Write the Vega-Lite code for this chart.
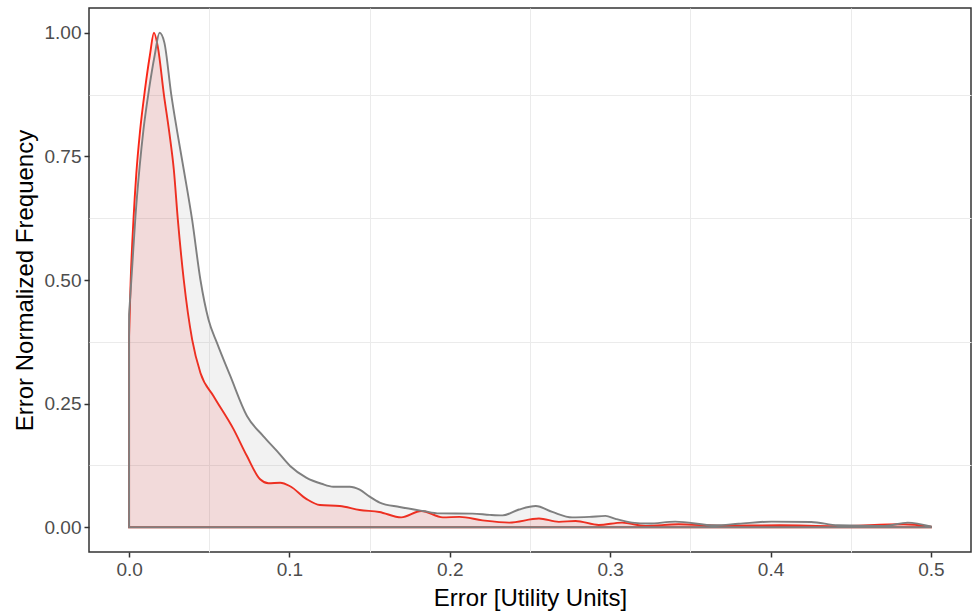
{
  "$schema": "https://vega.github.io/schema/vega-lite/v6.json",
  "width": 882,
  "height": 544,
  "autosize": {"type": "none"},
  "padding": {"left": 89, "top": 8, "right": 2, "bottom": 59},
  "background": "white",
  "config": {
    "font": "Liberation Sans",
    "view": {"stroke": "#333333", "strokeWidth": 1.5},
    "axis": {
      "domain": false,
      "grid": true,
      "gridColor": "#EBEBEB",
      "gridWidth": 2,
      "tickColor": "#333333",
      "tickWidth": 1.5,
      "tickSize": 5,
      "labelFont": "Liberation Sans",
      "labelFontSize": 19,
      "labelColor": "#4D4D4D",
      "labelPadding": 3,
      "titleFont": "Liberation Sans",
      "titleFontSize": 24,
      "titleFontWeight": "normal",
      "titleColor": "#000000",
      "titlePadding": 7
    }
  },
  "datasets": {
    "redSeries": [
      {"error": 0.000, "freq": 0.386},
      {"error": 0.001, "freq": 0.50},
      {"error": 0.0027, "freq": 0.62},
      {"error": 0.0045, "freq": 0.715},
      {"error": 0.0068, "freq": 0.80},
      {"error": 0.0099, "freq": 0.885},
      {"error": 0.013, "freq": 0.955},
      {"error": 0.0155, "freq": 1.0},
      {"error": 0.018, "freq": 0.97},
      {"error": 0.0217, "freq": 0.875},
      {"error": 0.025, "freq": 0.80},
      {"error": 0.0279, "freq": 0.723},
      {"error": 0.0304, "freq": 0.622},
      {"error": 0.0341, "freq": 0.50},
      {"error": 0.0393, "freq": 0.38},
      {"error": 0.0445, "freq": 0.312},
      {"error": 0.0527, "freq": 0.265},
      {"error": 0.0652, "freq": 0.198},
      {"error": 0.0735, "freq": 0.144},
      {"error": 0.0817, "freq": 0.097},
      {"error": 0.0869, "freq": 0.089},
      {"error": 0.0942, "freq": 0.090},
      {"error": 0.1004, "freq": 0.083},
      {"error": 0.1107, "freq": 0.057},
      {"error": 0.119, "freq": 0.045},
      {"error": 0.1314, "freq": 0.043},
      {"error": 0.1438, "freq": 0.035},
      {"error": 0.156, "freq": 0.031},
      {"error": 0.1697, "freq": 0.020},
      {"error": 0.1822, "freq": 0.033},
      {"error": 0.1956, "freq": 0.020},
      {"error": 0.206, "freq": 0.021},
      {"error": 0.2204, "freq": 0.014},
      {"error": 0.237, "freq": 0.0095},
      {"error": 0.2556, "freq": 0.0176},
      {"error": 0.268, "freq": 0.011},
      {"error": 0.2784, "freq": 0.0128},
      {"error": 0.2929, "freq": 0.0047},
      {"error": 0.3074, "freq": 0.0095},
      {"error": 0.322, "freq": 0.0027},
      {"error": 0.3426, "freq": 0.006},
      {"error": 0.369, "freq": 0.003},
      {"error": 0.406, "freq": 0.004},
      {"error": 0.44, "freq": 0.002},
      {"error": 0.483, "freq": 0.006},
      {"error": 0.5, "freq": 0.001}
    ],
    "graySeries": [
      {"error": 0.000, "freq": 0.43},
      {"error": 0.002, "freq": 0.53},
      {"error": 0.004, "freq": 0.63},
      {"error": 0.0066, "freq": 0.73},
      {"error": 0.009, "freq": 0.805},
      {"error": 0.0124, "freq": 0.885},
      {"error": 0.016, "freq": 0.955},
      {"error": 0.019, "freq": 1.0},
      {"error": 0.022, "freq": 0.98},
      {"error": 0.0263, "freq": 0.875},
      {"error": 0.030, "freq": 0.80},
      {"error": 0.0341, "freq": 0.723},
      {"error": 0.0393, "freq": 0.622},
      {"error": 0.0445, "freq": 0.50},
      {"error": 0.0495, "freq": 0.42},
      {"error": 0.0548, "freq": 0.373},
      {"error": 0.0631, "freq": 0.306},
      {"error": 0.0735, "freq": 0.225},
      {"error": 0.0838, "freq": 0.184},
      {"error": 0.092, "freq": 0.155},
      {"error": 0.1004, "freq": 0.124},
      {"error": 0.1107, "freq": 0.100},
      {"error": 0.12, "freq": 0.088},
      {"error": 0.1273, "freq": 0.082},
      {"error": 0.1376, "freq": 0.082},
      {"error": 0.1438, "freq": 0.076},
      {"error": 0.15, "freq": 0.062},
      {"error": 0.1563, "freq": 0.050},
      {"error": 0.1687, "freq": 0.041},
      {"error": 0.1832, "freq": 0.033},
      {"error": 0.1935, "freq": 0.028},
      {"error": 0.2142, "freq": 0.0276},
      {"error": 0.225, "freq": 0.025},
      {"error": 0.2329, "freq": 0.024},
      {"error": 0.2432, "freq": 0.036},
      {"error": 0.2536, "freq": 0.043},
      {"error": 0.2639, "freq": 0.031},
      {"error": 0.2763, "freq": 0.020},
      {"error": 0.287, "freq": 0.021},
      {"error": 0.2971, "freq": 0.023},
      {"error": 0.3033, "freq": 0.017},
      {"error": 0.3136, "freq": 0.0095},
      {"error": 0.324, "freq": 0.0075},
      {"error": 0.3405, "freq": 0.0115},
      {"error": 0.3654, "freq": 0.004},
      {"error": 0.38, "freq": 0.007},
      {"error": 0.4006, "freq": 0.0115},
      {"error": 0.4254, "freq": 0.0107},
      {"error": 0.442, "freq": 0.004},
      {"error": 0.471, "freq": 0.0027},
      {"error": 0.4855, "freq": 0.0095},
      {"error": 0.5, "freq": 0.0015}
    ]
  },
  "layer": [
    {
      "data": {"name": "redSeries"},
      "mark": {"type": "area", "interpolate": "monotone", "fill": "#FF0000", "fillOpacity": 0.1, "stroke": "#FA2617", "strokeWidth": 1.9, "clip": true},
      "encoding": {
        "x": {
          "field": "error", "type": "quantitative",
          "scale": {"domain": [-0.025, 0.525], "nice": false, "zero": false},
          "axis": {"orient": "top", "values": [0.05, 0.15, 0.25, 0.35, 0.45], "grid": true, "gridWidth": 1, "labels": false, "ticks": false, "domain": false, "title": null}
        },
        "y": {
          "field": "freq", "type": "quantitative",
          "scale": {"domain": [-0.05, 1.05], "nice": false, "zero": false},
          "axis": {"orient": "right", "values": [0.125, 0.375, 0.625, 0.875], "grid": true, "gridWidth": 1, "labels": false, "ticks": false, "domain": false, "title": null}
        }
      }
    },
    {
      "data": {"name": "graySeries"},
      "mark": {"type": "area", "interpolate": "monotone", "fill": "#7F7F7F", "fillOpacity": 0.1, "stroke": "#7F7F7F", "strokeWidth": 1.9, "clip": true},
      "encoding": {
        "x": {
          "field": "error", "type": "quantitative",
          "axis": {"orient": "bottom", "values": [0, 0.1, 0.2, 0.3, 0.4, 0.5], "format": ".1f", "title": "Error [Utility Units]"}
        },
        "y": {
          "field": "freq", "type": "quantitative",
          "axis": {"orient": "left", "values": [0, 0.25, 0.5, 0.75, 1], "format": ".2f", "title": "Error Normalized Frequency"}
        }
      }
    }
  ],
  "resolve": {"axis": {"x": "independent", "y": "independent"}}
}
